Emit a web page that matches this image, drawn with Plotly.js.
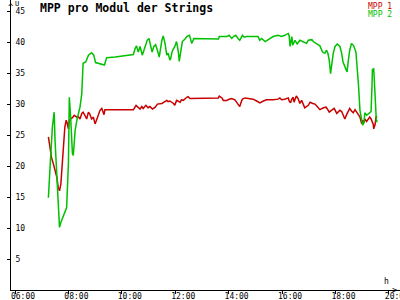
<!DOCTYPE html>
<html>
<head>
<meta charset="utf-8">
<script src="https://cdn.plot.ly/plotly-3.0.1.min.js"></script>
<style>html,body{margin:0;padding:0;background:#fff;}#chart{width:400px;height:300px;}</style>
</head>
<body>
<div id="chart"></div>
<script>
const day = "2024-06-01 ";
const titleText = "MPP pro Modul der Strings";
const seriesNames = ["MPP 1", "MPP 2"];
const xTickVals = ["06:00","08:00","10:00","12:00","14:00","16:00","18:00","20:00"];
const yTickVals = [5,10,15,20,25,30,35,40,45];

const mpp1Times = ["07:15","07:17","07:20","07:22","07:26","07:30","07:34","07:37","07:40","07:43","07:45","07:47","07:50","07:52","07:55","07:57","08:00","08:02","08:05","08:09","08:13","08:19","08:22","08:26","08:30","08:33","08:37","08:41","08:45","08:48","08:52","08:56","09:00","09:04","09:07","09:11","09:15","09:20","09:22","10:26","10:32","10:37","10:41","10:45","10:48","10:54","10:59","11:03","11:09","11:15","11:20","11:30","11:37","11:41","11:44","11:48","11:56","11:59","12:03","12:11","12:14","12:18","12:26","12:29","12:33","12:37","12:44","13:37","13:39","13:45","13:48","13:56","14:01","14:07","14:14","14:18","14:22","14:25","14:29","14:31","14:37","14:48","14:55","15:03","15:06","15:10","15:18","15:22","15:25","15:40","15:51","15:55","15:59","16:06","16:14","16:16","16:19","16:22","16:25","16:27","16:32","16:36","16:40","16:44","16:48","16:51","16:59","17:03","17:09","17:14","17:19","17:25","17:33","17:39","17:42","17:46","17:51","17:57","18:03","18:06","18:10","18:14","18:17","18:21","18:25","18:29","18:32","18:36","18:40","18:44","18:48","18:51","18:55","18:59","19:01","19:04","19:06","19:10","19:14","19:17","19:20","19:22","19:25","19:26","19:29","19:31","19:34"];
const mpp1Values = [24.7,23.6,22.5,21.4,20.4,19.3,18.2,16.6,16.0,17.1,19.3,20.4,23.6,26.3,27.4,27.0,26.0,27.4,27.6,27.8,28.2,27.9,28.0,27.6,28.5,28.7,28.2,27.6,28.7,28.4,27.6,27.9,26.8,27.6,28.2,29.0,29.3,28.3,29.1,29.1,29.8,29.4,29.2,29.6,29.3,29.8,29.4,29.6,29.2,29.5,30.0,30.1,30.4,30.6,30.4,30.5,30.1,29.8,30.6,30.3,30.7,30.6,31.1,31.2,30.9,30.9,31.0,31.0,31.3,31.0,30.6,30.6,30.8,30.9,30.7,30.3,30.1,29.6,30.5,30.8,31.0,30.9,30.8,30.5,30.4,30.2,30.5,30.6,30.7,30.7,30.8,31.0,30.7,30.8,31.0,30.5,30.2,30.8,31.1,30.3,31.3,30.9,30.1,30.6,29.8,29.4,29.8,30.3,30.1,30.0,29.6,29.1,29.4,29.5,29.2,28.7,29.0,29.3,28.5,28.8,29.0,28.8,28.2,27.6,28.3,29.0,29.3,28.9,28.6,29.1,28.7,28.2,27.9,26.8,27.4,27.0,27.6,27.2,27.7,27.9,27.6,27.1,26.7,26.0,26.7,27.9,27.9];

const mpp2Times = ["07:15","07:17","07:20","07:24","07:28","07:30","07:34","07:37","07:40","07:43","07:47","07:51","07:56","08:00","08:02","08:05","08:09","08:11","08:15","08:19","08:26","08:30","08:33","08:39","08:45","08:52","08:57","09:01","09:07","09:15","09:21","09:26","09:45","10:14","10:26","10:30","10:33","10:37","10:41","10:46","10:50","10:54","10:57","11:01","11:05","11:08","11:12","11:16","11:21","11:24","11:30","11:33","11:37","11:41","11:44","11:48","11:50","11:53","11:59","12:03","12:07","12:09","12:13","12:16","12:22","12:26","12:32","12:37","12:42","13:07","13:37","13:39","13:56","14:01","14:07","14:11","14:16","14:21","14:25","14:31","14:35","14:40","15:06","15:10","15:14","15:22","15:29","15:40","15:51","15:59","16:06","16:14","16:16","16:18","16:22","16:24","16:29","16:34","16:40","16:48","16:55","16:59","17:07","17:10","17:14","17:18","17:25","17:31","17:36","17:40","17:43","17:46","17:49","17:51","17:55","17:59","18:04","18:10","18:14","18:17","18:24","18:26","18:29","18:32","18:36","18:41","18:46","18:49","18:52","18:55","18:59","19:01","19:04","19:06","19:10","19:16","19:20","19:22","19:23","19:26","19:28","19:30","19:32","19:34"];
const mpp2Values = [14.9,18.8,21.4,26.3,28.7,24.1,19.3,13.9,10.1,10.9,11.7,12.5,13.3,20.4,31.1,27.9,22.0,21.7,25.7,27.4,29.5,31.7,36.6,36.8,37.9,38.3,37.9,36.7,36.6,36.5,36.3,37.5,37.6,37.9,38.0,39.0,39.4,38.4,39.3,37.9,38.7,39.4,40.3,40.6,39.5,38.4,39.3,39.6,38.4,37.6,40.3,41.0,39.8,37.9,38.2,37.1,37.4,38.5,39.3,40.1,38.4,36.9,38.7,40.1,40.5,40.9,41.1,39.8,40.6,40.5,40.5,40.9,40.9,41.1,40.6,40.9,41.1,40.6,40.3,41.1,40.8,40.9,40.9,40.3,40.6,40.1,40.4,40.9,41.1,40.9,41.1,41.4,41.0,39.3,40.9,39.5,40.3,39.7,40.3,40.0,39.8,40.3,40.4,40.1,39.9,39.8,39.4,38.4,38.2,38.7,38.2,37.1,34.9,36.0,38.2,39.3,39.7,39.3,38.2,36.8,35.5,35.2,37.1,38.7,39.8,39.4,38.4,36.0,32.8,29.0,27.4,26.6,27.0,28.6,28.2,28.5,28.8,32.8,35.6,35.7,32.8,27.9,27.1,27.4];

const colors = ["#c80000", "#00c000"];
const mono = "DejaVu Sans Mono";

const traces = [
  {x: mpp1Times.map(t => day + t), y: mpp1Values, name: seriesNames[0], type: "scatter", mode: "lines", line: {color: colors[0], width: 1.5}},
  {x: mpp2Times.map(t => day + t), y: mpp2Values, name: seriesNames[1], type: "scatter", mode: "lines", line: {color: colors[1], width: 1.5}}
];

const layout = {
  width: 400, height: 300,
  margin: {l: 11, r: 0, t: 0, b: 10, pad: 0},
  paper_bgcolor: "#fff", plot_bgcolor: "#fff",
  showlegend: false,
  title: {text: "<b>" + titleText + "</b>", font: {family: mono, size: 11.5, color: "#000"}, xref: "container", yref: "container", x: 0.1, xanchor: "left", y: 0.973, yanchor: "middle"},
  xaxis: {
    type: "date",
    range: [day + "05:51", day + "20:25"],
    tickvals: xTickVals.map(t => day + t), ticktext: xTickVals,
    showgrid: false, zeroline: false, showline: true, linecolor: "#000", linewidth: 1,
    ticks: "outside", ticklen: 3, tickcolor: "#000",
    tickfont: {family: mono, size: 8, color: "#000"},
    ticklabelshift: 8, ticklabelstandoff: -5,
    ticklabeloverflow: "allow"
  },
  yaxis: {
    range: [0, 46.8],
    tickvals: yTickVals,
    showgrid: false, zeroline: false, showline: true, linecolor: "#000", linewidth: 1,
    ticks: "outside", ticklen: 3, tickcolor: "#000",
    ticklabelposition: "inside", ticklabelstandoff: 3,
    ticklabeloverflow: "allow",
    tickfont: {family: mono, size: 8, color: "#000"}
  },
  annotations: [
    {text: seriesNames[0], xref: "paper", yref: "paper", x: 0.985, y: 0.977, xanchor: "right", yanchor: "middle", showarrow: false, font: {family: mono, size: 8, color: colors[0]}},
    {text: seriesNames[1], xref: "paper", yref: "paper", x: 0.985, y: 0.949, xanchor: "right", yanchor: "middle", showarrow: false, font: {family: mono, size: 8, color: colors[1]}},
    {text: "U", xref: "paper", yref: "paper", x: 0.006, y: 0.985, xanchor: "left", yanchor: "middle", showarrow: false, font: {family: mono, size: 7, color: "#000"}},
    {text: "h", xref: "paper", yref: "paper", x: 0.965, y: 0.03, xanchor: "center", yanchor: "middle", showarrow: false, font: {family: mono, size: 8, color: "#000"}},
    {text: ">", xref: "paper", yref: "paper", x: 1.0, y: 0.0, xanchor: "right", yanchor: "middle", showarrow: false, font: {family: mono, size: 9, color: "#000"}},
    {text: "^", xref: "paper", yref: "paper", x: 0.0, y: 1.0, xanchor: "center", yanchor: "top", showarrow: false, font: {family: mono, size: 9, color: "#000"}}
  ]
};

Plotly.newPlot("chart", traces, layout, {staticPlot: true, displayModeBar: false});
</script>
</body>
</html>
